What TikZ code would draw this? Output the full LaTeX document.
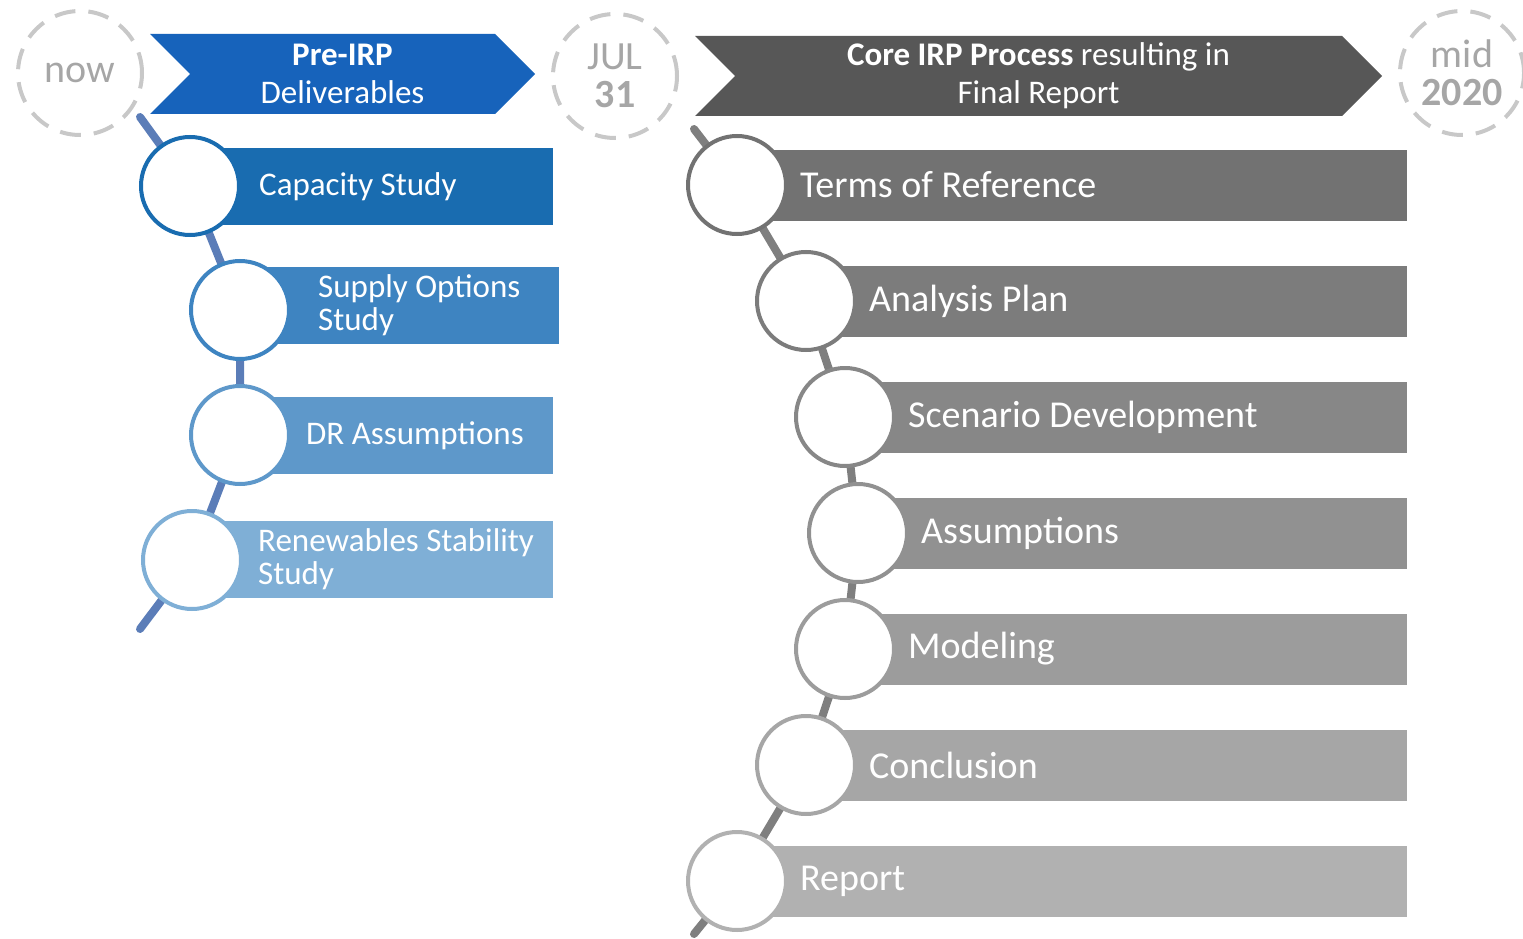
\documentclass[tikz,border=0pt]{standalone}
\usepackage{fontspec}
\setmainfont{Carlito}
\usetikzlibrary{shapes.symbols}
\pgfdeclarelayer{background}
\pgfsetlayers{background,main}

\definecolor{dategray}{HTML}{C8C8C8}
\definecolor{datetext}{HTML}{A6A6A6}
\definecolor{preblue}{HTML}{1763BB}
\definecolor{coregray}{HTML}{575757}
\definecolor{blueline}{HTML}{5B7DB8}
\definecolor{grayline}{HTML}{7F7F7F}
\definecolor{blueA}{HTML}{196CB0}
\definecolor{blueB}{HTML}{3E84C1}
\definecolor{blueC}{HTML}{5E98CA}
\definecolor{blueD}{HTML}{7FAFD6}
\definecolor{grayA}{HTML}{727272}
\definecolor{grayB}{HTML}{7C7C7C}
\definecolor{grayC}{HTML}{878787}
\definecolor{grayD}{HTML}{919191}
\definecolor{grayE}{HTML}{9C9C9C}
\definecolor{grayF}{HTML}{A6A6A6}
\definecolor{grayG}{HTML}{B1B1B1}

\begin{document}
\begin{tikzpicture}
  [x=1pt,y=-1pt,
   datecirc/.style={circle,draw=dategray,line width=4pt,dash pattern=on 21pt off 13pt,
     minimum size=124pt,inner sep=0pt,align=center,text=datetext,
     font=\fontsize{40}{38}\selectfont},
   chev/.style={signal,signal from=west,signal to=east,signal pointer angle=90,
     minimum height=80pt,inner sep=0pt,text=white,align=center,
     font=\fontsize{33}{38}\selectfont},
   spine/.style={line width=8pt,line cap=round},
   stepcirc/.style={circle,fill=white,line width=4pt,minimum size=98pt,inner sep=0pt},
   bar/.style={rectangle,anchor=west,inner sep=0pt},
   bartxt/.style={anchor=west,text=white,align=left,inner sep=0pt}]
  \path[use as bounding box] (0,0) rectangle (1523,939);

  % headers
  \node[datecirc] (now) at (80,73) {now};
  \node[chev,fill=preblue,minimum width=385pt] (pre) at (342.5,74) {\textbf{Pre-IRP}\\Deliverables};
  \node[datecirc] (jul) at (615,76) {JUL\\\textbf{31}};
  \node[chev,fill=coregray,minimum width=687pt] (core) at (1038.5,76) {\textbf{Core IRP Process} resulting in\\Final Report};
  \node[datecirc] (mid) at (1462,73) {mid\\\textbf{2020}};

  % pre-IRP steps
  \foreach \n/\cx/\cy/\by/\bx/\col/\tx/\txt in {
      b1/190/186/186.5/553/blueA/259/{Capacity Study},
      b2/240/310/305/559/blueB/318/{Supply Options\\Study},
      b3/240/435/435.5/553/blueC/306/{DR Assumptions},
      b4/192/560/559.5/553/blueD/258/{Renewables Stability\\Study}}
  {
    \node[bar,fill=\col,minimum height=77pt,minimum width={\bx pt-\cx pt}] (\n bar) at (\cx,\by) {};
    \node[stepcirc,draw=\col] (\n) at (\cx,\cy) {};
    \node[bartxt,font=\fontsize{33}{33}\selectfont] (\n txt) at (\tx,\by) {\txt};
  }

  % core IRP steps
  \foreach \n/\cx/\cy/\col/\txt in {
      g1/737/185/grayA/{Terms of Reference},
      g2/806/301/grayB/{Analysis Plan},
      g3/845/417/grayC/{Scenario Development},
      g4/858/533/grayD/{Assumptions},
      g5/845/649/grayE/{Modeling},
      g6/806/765/grayF/{Conclusion},
      g7/737/881/grayG/{Report}}
  {
    \node[bar,fill=\col,minimum height=71pt,minimum width={1407pt-\cx pt}] (\n bar) at (\cx,\cy+0.5) {};
    \node[stepcirc,draw=\col] (\n) at (\cx,\cy) {};
    \node[bartxt,font=\fontsize{38}{38}\selectfont] (\n txt) at (\cx+63,\cy) {\txt};
  }

  % spines
  \coordinate (bs) at (140,117);
  \coordinate (be) at (140,629);
  \coordinate (gs) at (694,129);
  \coordinate (ge) at (694,934);
  \begin{pgfonlayer}{background}
    \draw[spine,blueline] (bs) -- (b1.center) -- (b2.center) -- (b3.center) -- (b4.center) -- (be);
    \draw[spine,grayline] (gs) -- (g1.center) -- (g2.center) -- (g3.center) -- (g4.center)
      -- (g5.center) -- (g6.center) -- (g7.center) -- (ge);
  \end{pgfonlayer}
\end{tikzpicture}
\end{document}
